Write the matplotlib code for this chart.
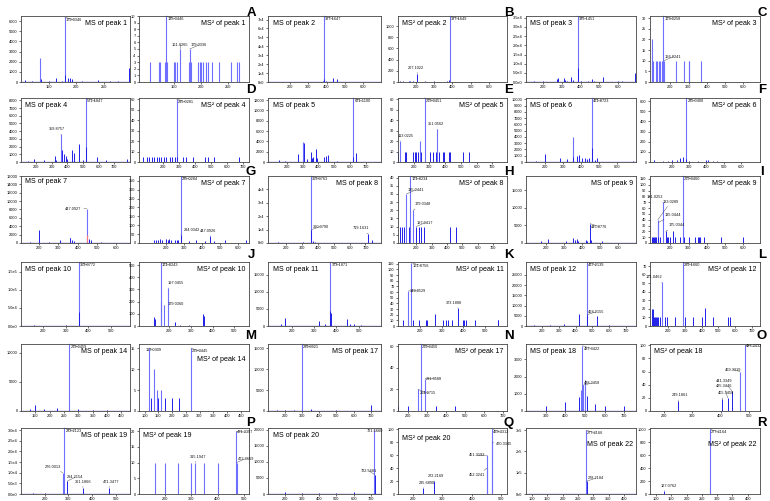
import matplotlib
matplotlib.use("Agg")
import matplotlib.pyplot as plt

plt.rcParams['font.family'] = ['Liberation Sans', 'DejaVu Sans']

# ---------------- data (m/z, intensity, labelled peaks) ----------------
p1_ms_mz = [108, 120, 135, 137, 150, 163, 175, 179.0346, 180, 185, 188, 192, 210, 240, 260, 275, 295]
p1_ms_int = [150, 100, 2400, 300, 100, 400, 100, 6400, 700, 350, 400, 300, 100, 150, 100, 100, 1400]
p1_ms_lab = [(179.0346, "179.0346")]

p1_ms2_mz = [105, 122, 124, 133, 135.0446, 137, 149.5, 152, 156, 161.0265, 177, 179.0336, 181, 195, 198, 201, 204, 209, 214, 221, 234, 256, 267, 272]
p1_ms2_int = [3, 3, 3, 3, 10, 3, 3, 3, 3, 5, 3, 5, 3, 3, 3, 3, 3, 3, 3, 3, 3, 3, 3, 3]
p1_ms2_lab = [(135.0446, "135.0446"), (161.0265, "161.0265"), (179.0336, "179.0336")]

p2_ms_mz = [150, 200, 300, 350, 380, 387.1647, 387.2, 395, 435, 458, 520, 600]
p2_ms_int = [300, 200, 300, 500, 1200, 74000, 3000, 800, 4200, 3000, 300, 200]
p2_ms_lab = [(387.1647, "387.1647")]

p2_ms2_mz = [110, 125, 160, 168, 180, 207.1022, 250, 300, 370, 380, 387.1649]
p2_ms2_int = [20, 10, 20, 25, 10, 150, 10, 10, 20, 30, 1180]
p2_ms2_lab = [(207.1022, "207.1022"), (387.1649, "387.1649")]

p3_ms_mz = [150, 200, 275, 280, 310, 315, 330, 348, 360, 385.1451, 385.2, 400, 440, 460, 470, 520, 600, 620, 690]
p3_ms_int = [500, 300, 1500, 2000, 2000, 1000, 800, 2500, 1000, 36000, 7500, 500, 500, 1500, 800, 3000, 500, 600, 5000]
p3_ms_lab = [(385.1451, "385.1451")]

p3_ms2_mz = [100, 102, 106, 120, 130, 140, 145, 155, 160, 163.0258, 166.0241, 230, 277, 300, 303, 366]
p3_ms2_int = [10, 20, 10, 10, 10, 10, 10, 10, 10, 31, 10, 10, 10, 10, 10, 10]
p3_ms2_lab = [(163.0258, "163.0258"), (166.0241, "166.0241")]

p4_ms_mz = [150, 190, 250, 320, 330, 359.8757, 365, 380, 390, 400, 430, 440, 475, 500, 521.1847, 521.2, 590, 650, 780]
p4_ms_int = [100, 400, 200, 800, 300, 3600, 1500, 1000, 800, 400, 1500, 1200, 2300, 300, 8300, 2000, 600, 200, 400]
p4_ms_lab = [(359.8757, "359.8757"), (521.1847, "521.1847")]

p4_ms2_mz = [77, 97, 114, 128, 143, 159, 175, 190, 204, 221, 241, 258, 272, 285.0281, 286, 323, 344, 385, 464, 478, 519, 673]
p4_ms2_int = [5, 5, 5, 5, 5, 5, 5, 5, 5, 5, 5, 5, 5, 60, 5, 5, 5, 5, 5, 5, 5, 5]
p4_ms2_lab = [(285.0281, "285.0281")]

p5_ms_mz = [150, 190, 269, 300, 308, 330, 356, 360, 367, 382, 390, 436, 450, 458, 520, 621.11, 621.2, 640]
p5_ms_int = [300, 200, 1500, 3900, 3700, 500, 1900, 800, 900, 2600, 800, 1000, 1200, 1300, 200, 12400, 1000, 1700]
p5_ms_lab = [(621.11, "621.1100")]

p5_ms2_mz = [101, 113.0225, 143, 154, 196, 206, 217, 227, 237, 248, 269.0451, 301, 322, 343, 351.0562, 360, 385, 395, 427, 431, 511, 553]
p5_ms2_int = [10, 20, 10, 10, 10, 10, 10, 10, 20, 10, 61, 10, 10, 10, 31, 10, 10, 10, 10, 10, 10, 10]
p5_ms2_lab = [(113.0225, "113.0225"), (269.0451, "269.0451"), (351.0562, "351.0562")]

p6_ms_mz = [150, 200, 285, 320, 353, 353.1, 380, 390, 405, 420, 435, 445, 461.0723, 461.2, 480, 490, 690]
p6_ms_int = [100, 1200, 700, 400, 4000, 800, 1000, 1100, 700, 600, 500, 600, 10200, 2300, 300, 700, 200]
p6_ms_lab = [(461.0723, "461.0723")]

p6_ms2_mz = [100, 150, 180, 200, 230, 250, 265, 280, 285.0408, 300, 350, 400, 410, 440, 460]
p6_ms2_int = [15, 10, 10, 20, 20, 40, 50, 30, 630, 10, 10, 15, 15, 10, 5]
p6_ms2_lab = [(285.0408, "285.0408")]

p7_ms_mz = [150, 198, 250, 310, 358, 362, 370, 380, 447.0927, 460, 470, 520]
p7_ms_int = [200, 3000, 300, 700, 1300, 1200, 700, 500, 8200, 1000, 600, 200]
p7_ms_lab = [(447.0927, "447.0927")]
p7_ms_red_mz = [447.0927]
p7_ms_red_int = [2000]

p7_ms2_mz = [136, 145, 155, 170, 180, 200, 210, 220, 230, 250, 260, 270, 284.0342, 285.0284, 330, 370, 420, 447.0926, 470, 530, 650]
p7_ms2_int = [15, 15, 15, 20, 15, 20, 15, 20, 15, 15, 15, 15, 45, 375, 10, 15, 10, 40, 10, 15, 15]
p7_ms2_lab = [(284.0342, "284.0342"), (285.0284, "285.0284"), (447.0926, "447.0926")]

p8_ms_mz = [150, 200, 310, 359.0763, 360.079, 370, 380, 500, 719.1631, 740]
p8_ms_int = [500, 300, 1000, 50000, 10000, 1500, 500, 300, 6500, 2500]
p8_ms_lab = [(359.0763, "359.0763"), (360.079, "360.0790"), (719.1631, "719.1631")]

p8_ms2_mz = [95, 105, 120, 135.0441, 150, 161.0234, 179.0348, 197.0417, 215, 230, 250, 420, 455]
p8_ms2_int = [10, 10, 10, 30, 10, 41, 20, 10, 10, 10, 10, 10, 10]
p8_ms2_lab = [(161.0234, "161.0234"), (135.0441, "135.0441"), (179.0348, "179.0348"), (197.0417, "197.0417")]

p9_ms_mz = [175, 212, 310, 352, 360, 375, 380, 420, 430, 445.0776, 445.2, 450, 510]
p9_ms_int = [500, 1000, 500, 1500, 800, 1200, 600, 800, 500, 5500, 1000, 800, 500]
p9_ms_lab = [(445.0776, "445.0776")]

p9_ms2_mz = [100, 105, 110, 115, 120, 131, 133.0289, 135.0444, 145, 161.0253, 175.0344, 180, 190, 200, 215, 225, 255, 269.046, 275, 305, 335, 350, 355, 365, 385, 480, 600]
p9_ms2_int = [10, 10, 10, 10, 10, 10, 40, 35, 10, 70, 20, 10, 10, 10, 20, 10, 10, 115, 10, 10, 10, 10, 10, 10, 10, 10, 10]
p9_ms2_lab = [(269.046, "269.0460"), (161.0253, "161.0253"), (133.0289, "133.0289"), (135.0444, "135.0444"), (175.0344, "175.0344")]

p10_ms_mz = [120, 160, 200, 300, 359.0772, 359.2, 380, 450]
p10_ms_int = [1000, 2000, 800, 1500, 177000, 40000, 1000, 500]
p10_ms_lab = [(359.0772, "359.0772")]

p10_ms2_mz = [130, 135, 161.0243, 161.1, 179.036, 197.0455, 225, 250, 290, 357, 362]
p10_ms2_int = [70, 60, 525, 200, 170, 310, 30, 10, 10, 100, 80]
p10_ms2_lab = [(161.0243, "161.0243"), (197.0455, "197.0455"), (179.036, "179.0360")]

p11_ms_mz = [150, 170, 323, 350, 373.1871, 373.3, 375, 447, 460, 480, 510]
p11_ms_int = [600, 2300, 1400, 700, 18800, 4500, 3800, 2000, 500, 500, 300]
p11_ms_lab = [(373.1871, "373.1871")]

p11_ms2_mz = [122, 148.0529, 161.0756, 170, 197, 227, 231, 268, 308, 320, 330, 350, 373.1888, 400, 405, 410, 452, 557, 560]
p11_ms2_int = [10, 62, 112, 10, 10, 10, 10, 21, 10, 10, 10, 10, 32, 10, 10, 10, 10, 10, 10]
p11_ms2_lab = [(161.0756, "161.0756"), (148.0529, "149.0529"), (373.1888, "373.1888")]

p12_ms_mz = [150, 250, 330, 420, 467.2139, 468.2155, 530, 600]
p12_ms_int = [500, 300, 1000, 6000, 31300, 5500, 5000, 500]
p12_ms_lab = [(467.2139, "467.2139"), (468.2155, "468.2155")]

p12_ms2_mz = [100, 105, 110, 115, 120, 125, 130, 140, 150, 161.0462, 180, 190, 240, 289.166, 300, 350, 400, 420, 470, 560, 570]
p12_ms2_int = [20, 20, 10, 10, 10, 10, 10, 10, 10, 51, 10, 10, 10, 75, 10, 10, 10, 21, 10, 10, 10]
p12_ms2_lab = [(161.0462, "161.0462"), (289.166, "289.1660")]

p14_ms_mz = [130, 150, 180, 225, 269.0459, 300, 350, 400]
p14_ms_int = [300, 1000, 300, 500, 11500, 300, 200, 200]
p14_ms_lab = [(269.0459, "269.0459")]

p14_ms2_mz = [117.0309, 125, 135, 145, 150, 160, 175, 200, 225, 269.0445]
p14_ms2_int = [15, 3, 10, 5, 3, 5, 3, 3, 3, 15]
p14_ms2_lab = [(117.0309, "117.0309"), (269.0445, "269.0445")]

p17_ms_mz = [150, 200, 250, 299.0921, 350, 500, 700]
p17_ms_int = [300, 200, 300, 16000, 500, 200, 1500]
p17_ms_lab = [(299.0921, "299.0921")]

p17_ms2_mz = [150, 200, 254.9715, 269.045, 291.0588, 350, 450]
p17_ms2_int = [5, 5, 20, 62, 30, 5, 5]
p17_ms2_lab = [(269.045, "269.0450"), (291.0588, "291.0588"), (254.9715, "254.9715")]

p18_ms_mz = [300, 400, 470, 480, 487.3422, 488.3458, 500, 510, 550, 600, 700]
p18_ms_int = [300, 500, 800, 1200, 3800, 1500, 1800, 900, 400, 300, 300]
p18_ms_lab = [(487.3422, "487.3422"), (488.3458, "488.3458")]

p18_ms2_mz = [249.1861, 405.3458, 425.3446, 441.3349, 469.3319, 487.3432]
p18_ms2_int = [15, 18, 20, 30, 60, 100]
p18_ms2_lab = [(249.1861, "249.1861"), (405.3458, "405.3458"), (425.3446, "425.3446"), (441.3349, "441.3349"), (469.3319, "469.3319"), (487.3432, "487.3432")]

p19_ms_mz = [150, 200, 276.0013, 283.2123, 294.2154, 361.1866, 471.3477]
p19_ms_int = [500, 500, 1e4, 3.1e4, 0.6e4, 0.3e4, 0.3e4]
p19_ms_lab = [(283.2123, "283.2123"), (276.0013, "276.0013"), (294.2154, "294.2154"), (361.1866, "361.1866"), (471.3477, "471.3477")]

p19_ms2_mz = [160, 200, 250, 300, 315.1947, 350, 400, 471.3397, 472.3669]
p19_ms2_int = [10, 10, 10, 10, 10, 10, 10, 20, 10]
p19_ms2_lab = [(471.3397, "471.3397"), (315.1947, "315.1947"), (472.3669, "472.3669")]

p20_ms_mz = [200, 300, 400, 500, 600, 721.566, 722.5681]
p20_ms_int = [500, 300, 300, 300, 500, 20000, 6000]
p20_ms_lab = [(721.566, "721.5660"), (722.5681, "722.5681")]

p20_ms2_mz = [235.689, 272.2169, 451.3192, 452.3241, 469.3312, 470.3345]
p20_ms2_int = [10, 20, 60, 40, 100, 80]
p20_ms2_lab = [(469.3312, "469.3312"), (470.3345, "470.3345"), (451.3192, "451.3192"), (452.3241, "452.3241"), (235.689, "235.6890"), (272.2169, "272.2169")]

p22_ms_mz = [150, 200, 277.2166, 278.2184, 350, 420]
p22_ms_int = [300, 300, 3e5, 0.6e5, 300, 300]
p22_ms_lab = [(277.2166, "277.2166"), (278.2184, "278.2184")]

p22_ms2_mz = [127.0762, 277.2164]
p22_ms2_int = [50, 1000]
p22_ms2_lab = [(127.0762, "127.0762"), (277.2164, "277.2164")]

panel_letters = ["A", "B", "C", "D", "E", "F", "G", "H", "I", "J", "K", "L", "M", "N", "O", "P", "Q", "R"]

# ---------------- layout ----------------
W, H = 770, 501
col_x = [(21, 130), (139, 249), (268, 381), (398, 507), (526, 636), (650, 760)]
row_y = [(16, 82), (98, 162), (176, 243), (262, 326), (344, 411), (428, 494)]
letter_y = [12.5, 90, 172, 255, 336, 423]

fig = plt.figure(figsize=(7.7, 5.01), dpi=100)

LIGHT = '#6e6eff'
DARK = '#2020e8'
TXT = 2.8
PT = 0.72  # points per pixel


def e0(v):
    if v == 0:
        return "0e0"
    e = len(str(int(v))) - 1
    return "%de%d" % (round(v / 10 ** e), e)


def e1(v):
    if v == 0:
        return "0.0e0"
    e = len(str(int(v))) - 1
    return "%.1fe%d" % (v / 10 ** e, e)


# label text offsets in pixels (dx right, dy up) relative to peak top
off = {
    "161.0265": (-8, 6), "179.0336": (1, 6),
    "207.1022": (-10, 8),
    "166.0241": (1, 6),
    "359.8757": (-12, 7),
    "113.0225": (-2, 7), "351.0562": (-10, 7),
    "447.0927": (-22, 2),
    "284.0342": (3, 7), "447.0926": (-10, 7),
    "360.0790": (1, 5), "719.1631": (-16, 8),
    "135.0441": (1, 6), "179.0348": (1, 8), "197.0417": (1, 6),
    "161.0253": (-16, 7), "133.0289": (5, 20), "135.0444": (6, 10), "175.0344": (3, 8),
    "197.0455": (-1, 7), "179.0360": (3, 3),
    "149.0529": (1, 2), "373.1888": (-12, 7),
    "468.2155": (1, 5), "161.0462": (-16, 7),
    "117.0309": (-4, 0),
    "291.0588": (1, 2), "254.9715": (2, -2),
    "488.3458": (1, 4),
    "249.1861": (-6, 8), "405.3458": (-4, 8), "425.3446": (-12, 14), "441.3349": (-16, 12), "469.3319": (-15, 4), "487.3432": (1, 1),
    "276.0013": (-18, 8), "294.2154": (0, 6), "361.1866": (-8, 8), "471.3477": (-6, 8),
    "315.1947": (-6, 8), "472.3669": (1, 6), "471.3397": (1, 1),
    "722.5681": (-14, 6), "721.5660": (-8, 1),
    "470.3345": (4, 0), "451.3192": (-18, 2), "452.3241": (-18, -5), "235.6890": (-4, 7), "272.2169": (-6, 7),
    "278.2184": (1, 5),
    "127.0762": (-4, 7),
}

panels = [
    # (mz, int, lab, title, title side, title y, xlim, xticks, ylim, yticks, ylabel fmt)
    (p1_ms_mz, p1_ms_int, p1_ms_lab, "MS of peak 1", "r", 0.94, (100, 297), [150, 200, 250], (0, 6500), range(0, 6001, 1000), None),
    (p1_ms2_mz, p1_ms2_int, p1_ms2_lab, "MS\u00b2 of peak 1", "r", 0.94, (84, 290), [150, 200, 250], (0, 10), range(0, 11), None),
    (p2_ms_mz, p2_ms_int, p2_ms_lab, "MS of peak 2", "l", 0.94, (80, 697), range(200, 601, 100), (0, 74000), range(0, 70001, 10000), e0),
    (p2_ms2_mz, p2_ms2_int, p2_ms2_lab, "MS\u00b2 of peak 2", "l", 0.94, (100, 700), range(200, 601, 100), (0, 1180), range(0, 1001, 200), None),
    (p3_ms_mz, p3_ms_int, p3_ms_lab, "MS of peak 3", "l", 0.94, (110, 695), range(200, 601, 100), (0, 36000), range(0, 35001, 5000), e1),
    (p3_ms2_mz, p3_ms2_int, p3_ms2_lab, "MS\u00b2 of peak 3", "r", 0.94, (90, 690), range(200, 601, 100), (0, 31), range(0, 31, 5), None),
    (p4_ms_mz, p4_ms_int, p4_ms_lab, "MS of peak 4", "l", 0.94, (105, 800), range(200, 701, 100), (0, 8300), range(0, 8001, 1000), None),
    (p4_ms2_mz, p4_ms2_int, p4_ms2_lab, "MS\u00b2 of peak 4", "r", 0.94, (50, 735), range(200, 701, 100), (0, 61), range(0, 61, 10), None),
    (p5_ms_mz, p5_ms_int, p5_ms_lab, "MS of peak 5", "l", 0.94, (80, 797), range(200, 701, 100), (0, 12400), range(0, 12001, 2000), None),
    (p5_ms2_mz, p5_ms2_int, p5_ms2_lab, "MS\u00b2 of peak 5", "r", 0.94, (100, 793), range(200, 701, 100), (0, 61), range(0, 61, 10), None),
    (p6_ms_mz, p6_ms_int, p6_ms_lab, "MS of peak 6", "l", 0.94, (95, 705), range(200, 601, 100), (0, 10200), range(0, 10001, 1000), None),
    (p6_ms2_mz, p6_ms2_int, p6_ms2_lab, "MS\u00b2 of peak 6", "r", 0.94, (76, 708), range(200, 601, 100), (0, 630), range(0, 601, 100), None),
    (p7_ms_mz, p7_ms_int, p7_ms_lab, "MS of peak 7", "l", 0.97, (105, 672), range(200, 601, 100), (0, 16000), range(0, 16001, 2000), None),
    (p7_ms2_mz, p7_ms2_int, p7_ms2_lab, "MS\u00b2 of peak 7", "r", 0.94, (51, 664), range(200, 601, 100), (0, 377), range(0, 351, 50), None),
    (p8_ms_mz, p8_ms_int, p8_ms_lab, "MS of peak 8", "r", 0.94, (87, 798), range(200, 701, 100), (0, 50000), range(0, 40001, 10000), e0),
    (p8_ms2_mz, p8_ms2_int, p8_ms2_lab, "MS\u00b2 of peak 8", "r", 0.94, (80, 790), range(200, 701, 100), (0, 41), range(0, 41, 5), None),
    (p9_ms_mz, p9_ms_int, p9_ms_lab, "MS of peak 9", "r", 0.94, (90, 700), range(200, 601, 100), (0, 19000), range(0, 15001, 5000), None),
    (p9_ms2_mz, p9_ms2_int, p9_ms2_lab, "MS\u00b2 of peak 9", "r", 0.94, (90, 690), range(200, 601, 100), (0, 115), range(0, 111, 10), None),
    (p10_ms_mz, p10_ms_int, p10_ms_lab, "MS of peak 10", "l", 0.94, (100, 585), range(200, 501, 100), (0, 177000), range(0, 150001, 50000), e1),
    (p10_ms2_mz, p10_ms2_int, p10_ms2_lab, "MS\u00b2 of peak 10", "r", 0.94, (62, 567), range(200, 501, 100), (0, 525), range(0, 501, 100), None),
    (p11_ms_mz, p11_ms_int, p11_ms_lab, "MS of peak 11", "l", 0.94, (93, 600), range(200, 501, 100), (0, 18800), range(0, 15001, 5000), None),
    (p11_ms2_mz, p11_ms2_int, p11_ms2_lab, "MS\u00b2 of peak 11", "r", 0.94, (100, 600), range(200, 501, 100), (0, 113), range(0, 111, 10), None),
    (p12_ms_mz, p12_ms_int, p12_ms_lab, "MS of peak 12", "l", 0.94, (105, 760), range(200, 701, 100), (0, 31300), range(0, 25001, 5000), None),
    (p12_ms2_mz, p12_ms2_int, p12_ms2_lab, "MS\u00b2 of peak 12", "r", 0.94, (90, 750), range(200, 701, 100), (0, 75), range(0, 71, 10), None),
    (p14_ms_mz, p14_ms_int, p14_ms_lab, "MS of peak 14", "r", 0.94, (100, 480), range(150, 451, 50), (0, 11500), range(0, 10001, 5000), None),
    (p14_ms2_mz, p14_ms2_int, p14_ms2_lab, "MS\u00b2 of peak 14", "r", 0.82, (80, 480), range(100, 451, 50), (0, 16), range(0, 16, 5), None),
    (p17_ms_mz, p17_ms_int, p17_ms_lab, "MS of peak 17", "r", 0.94, (100, 760), range(200, 701, 100), (0, 16000), range(0, 15001, 5000), None),
    (p17_ms2_mz, p17_ms2_int, p17_ms2_lab, "MS\u00b2 of peak 17", "r", 0.94, (150, 720), range(200, 701, 100), (0, 62), range(0, 61, 20), None),
    (p18_ms_mz, p18_ms_int, p18_ms_lab, "MS of peak 18", "l", 0.94, (200, 760), range(300, 701, 100), (0, 3900), range(0, 3001, 1000), None),
    (p18_ms2_mz, p18_ms2_int, p18_ms2_lab, "MS\u00b2 of peak 18", "l", 0.94, (150, 540), range(200, 501, 100), (0, 102), range(0, 101, 20), None),
    (p19_ms_mz, p19_ms_int, p19_ms_lab, "MS of peak 19", "r", 0.94, (100, 560), range(200, 501, 100), (0, 31000), range(0, 30001, 5000), e1),
    (p19_ms2_mz, p19_ms2_int, p19_ms2_lab, "MS\u00b2 of peak 19", "l", 0.94, (100, 520), range(200, 501, 100), (0, 21), range(0, 21, 5), None),
    (p20_ms_mz, p20_ms_int, p20_ms_lab, "MS of peak 20", "l", 0.94, (100, 760), range(200, 701, 100), (0, 20500), range(0, 20001, 5000), None),
    (p20_ms2_mz, p20_ms2_int, p20_ms2_lab, "MS\u00b2 of peak 20", "l", 0.9, (150, 520), range(200, 501, 100), (0, 102), range(0, 101, 20), None),
    (p22_ms_mz, p22_ms_int, p22_ms_lab, "MS of peak 22", "r", 0.8, (80, 440), range(100, 401, 50), (0, 3.1e5), range(0, 300001, 100000), e0),
    (p22_ms2_mz, p22_ms2_int, p22_ms2_lab, "MS\u00b2 of peak 22", "r", 0.8, (80, 440), range(100, 401, 50), (0, 1020), range(0, 1001, 200), None),
]

for i, (mz, inten, lab, title, side, ty, xlim, xt, ylim, yt, yfmt) in enumerate(panels):
    r, c = divmod(i, 6)
    x0, x1 = col_x[c]
    y0, y1 = row_y[r]
    ax = fig.add_axes([x0 / W, 1 - y1 / H, (x1 - x0) / W, (y1 - y0) / H])
    big = [(m, v) for m, v in zip(mz, inten) if v >= 0.3 * ylim[1]]
    small = [(m, v) for m, v in zip(mz, inten) if v < 0.3 * ylim[1]]
    if big:
        ax.vlines([m for m, v in big], 0, [v for m, v in big], color=LIGHT, lw=0.8)
    if small:
        ax.vlines([m for m, v in small], 0, [v for m, v in small], color=DARK, lw=0.7)
    if i == 12:
        ax.vlines(p7_ms_red_mz, 0, p7_ms_red_int, color='#ff7a7a', lw=0.9)
    if c % 2 == 0:
        ax.axhline(ylim[1] * 0.006, color='#2a2aff', lw=0.9)
    ax.set_xlim(*xlim)
    ax.set_ylim(*ylim)
    ax.set_xticks(list(xt))
    yt = list(yt)
    ax.set_yticks(yt)
    if yfmt is not None:
        ax.set_yticklabels([yfmt(v) for v in yt])
    ax.tick_params(labelsize=TXT, length=1.5, width=0.4, pad=1)
    for s in ax.spines.values():
        s.set_linewidth(0.6)
        s.set_color('#444444')
    for m, t in lab:
        h = max(v for mm, v in zip(mz, inten) if mm == m)
        dx, dy = off.get(t, (1, -1))
        ax.annotate(t, xy=(m, min(h, ylim[1])), xytext=(dx * PT, dy * PT), textcoords='offset points',
                    fontsize=TXT, ha='left', va='top', color='#111111',
                    arrowprops=dict(arrowstyle='-', lw=0.3, color='#444444', shrinkA=0, shrinkB=0))
    if side == "l":
        ax.text(0.04, ty, title, transform=ax.transAxes, fontsize=5.1, ha='left', va='top')
    else:
        ax.text(0.97, ty, title, transform=ax.transAxes, fontsize=5.1, ha='right', va='top')
    if c % 2 == 1:
        k = r * 3 + c // 2
        fig.text((x1 + 2) / W, 1 - letter_y[r] / H, panel_letters[k], fontsize=9.5,
                 fontweight='bold', ha='center', va='center')

fig.savefig("out.png", dpi=100)
